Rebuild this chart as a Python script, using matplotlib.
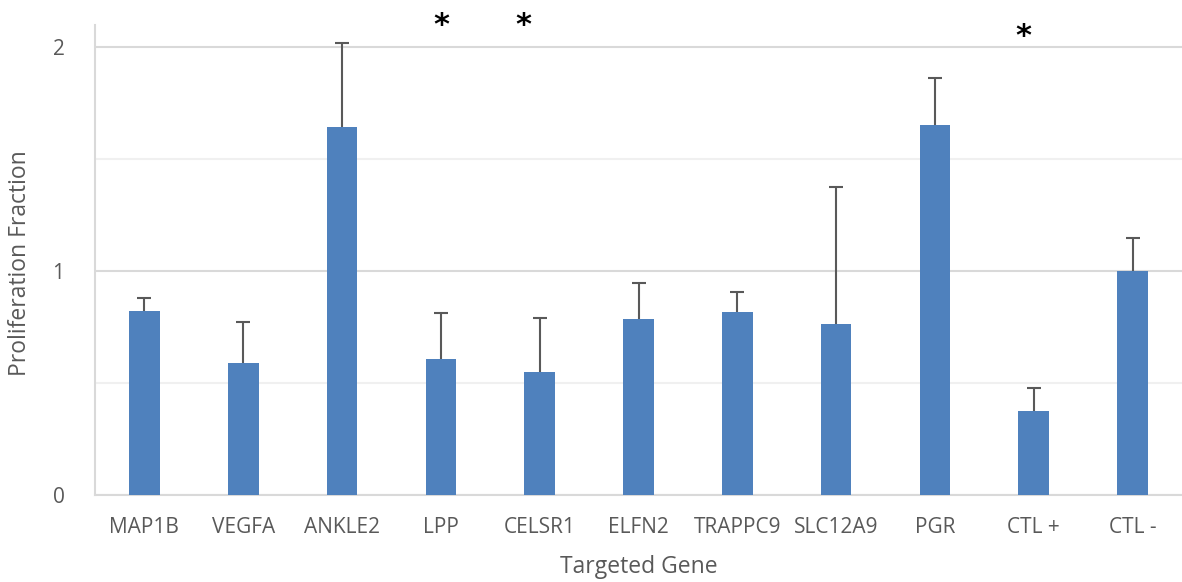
import matplotlib.pyplot as plt
import numpy as np

genes = ['MAP1B', 'VEGFA', 'ANKLE2', 'LPP', 'CELSR1', 'ELFN2',
         'TRAPPC9', 'SLC12A9', 'PGR', 'CTL +', 'CTL -']
values = [0.82, 0.59, 1.645, 0.607, 0.55, 0.786, 0.817, 0.763, 1.652, 0.375, 1.0]
err_top = [0.879, 0.772, 2.02, 0.812, 0.79, 0.946, 0.906, 1.375, 1.862, 0.478, 1.147]
errs = [t - v for t, v in zip(err_top, values)]

# significance marks: (gene index, horizontal nudge, height)
stars = [(3, 0.0, 2.10), (4, -0.17, 2.10), (9, -0.11, 2.05)]

plt.rcParams['font.family'] = ['Open Sans', 'DejaVu Sans']
txt = '#595959'

fig = plt.figure(figsize=(11.82, 5.82), dpi=100)
ax = fig.add_axes([95/1182, 87/582, 1 - 95/1182, (495-25)/582])

x = np.arange(len(genes))
ax.bar(x, values, width=0.31, color='#4F81BD', zorder=3)
eb = ax.errorbar(x, values, yerr=[np.zeros(len(errs)), errs], fmt='none',
                 ecolor='#595959', elinewidth=1.5, capsize=5, capthick=1.5, zorder=4)
# only the upper cap
eb[1][0].set_visible(False)

ax.set_xlim(-0.5, len(genes) - 0.5)
ax.set_ylim(0, 2.1)
ax.set_yticks([0, 1, 2])
ax.set_yticks([0.5, 1.5], minor=True)
ax.set_yticklabels(['0', '1', '2'])
ax.yaxis.grid(True, which='major', color='#d9d9d9', linewidth=1.5, zorder=0)
ax.yaxis.grid(True, which='minor', color='#f0f0f0', linewidth=1.5, zorder=0)
ax.set_xticks(x)
ax.set_xticklabels(genes)
ax.tick_params(axis='both', which='both', length=0, labelsize=15, colors=txt)
ax.tick_params(axis='x', pad=16)
ax.tick_params(axis='y', pad=22)

for s in ['top', 'right']:
    ax.spines[s].set_visible(False)
ax.spines['left'].set_color('#d9d9d9')
ax.spines['left'].set_linewidth(1.5)
ax.spines['bottom'].set_color('#d9d9d9')
ax.spines['bottom'].set_linewidth(1.5)

ax.set_xlabel('Targeted Gene', fontsize=16.5, color=txt, labelpad=12)
fig.text(20/1182, 0.548, 'Proliferation Fraction', rotation=90, ha='center',
         va='center', fontsize=16.5, color=txt)

for i, dx, h in stars:
    ax.text(i + dx, h, '*', ha='center', va='center', fontsize=22,
            fontweight='bold', color='black', clip_on=False,
            family=['DejaVu Sans'])

fig.savefig('out.png', dpi=100)
